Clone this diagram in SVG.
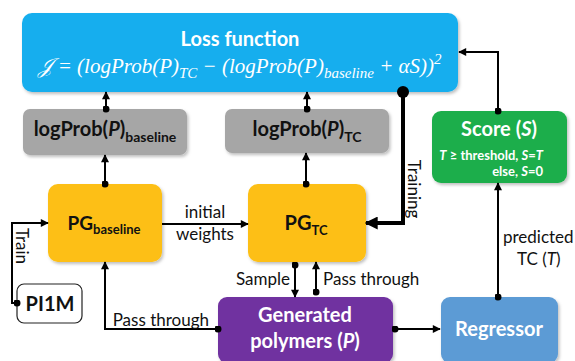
<svg xmlns="http://www.w3.org/2000/svg" width="575" height="361" viewBox="0 0 575 361">
  <style>
    .box { filter: url(#shadow); }
    .lbl { font-family: Lato, "Liberation Sans", sans-serif; font-weight: bold; }
    .white { fill: #ffffff; }
    .dark { fill: #111111; }
    .edge { fill: none; stroke: #000000; stroke-width: 2; }
    .thick { fill: none; stroke: #000000; stroke-width: 4; }
    .note { font-family: Lato, "Liberation Sans", sans-serif; font-size: 17px; fill: #111111; }
    .math { font-family: "Liberation Serif", "DejaVu Serif", serif; font-style: italic; fill: #ffffff; }
  </style>
  <defs>
    <filter id="shadow" x="-10%" y="-10%" width="125%" height="130%">
      <feDropShadow dx="1.5" dy="2" stdDeviation="1.8" flood-color="#000000" flood-opacity="0.25"/>
    </filter>
    <marker id="arrow" viewBox="0 0 10 10" refX="9" refY="5" markerWidth="9" markerHeight="8" markerUnits="userSpaceOnUse" orient="auto">
      <path d="M0,0 L10,5 L0,10 Z" fill="#000000"/>
    </marker>
    <marker id="arrowBig" viewBox="0 0 10 10" refX="9" refY="5" markerWidth="13" markerHeight="13" markerUnits="userSpaceOnUse" orient="auto">
      <path d="M0,0 L10,5 L0,10 Z" fill="#000000"/>
    </marker>
    <marker id="dot" viewBox="0 0 10 10" refX="5" refY="5" markerWidth="7" markerHeight="7" markerUnits="userSpaceOnUse">
      <circle cx="5" cy="5" r="5" fill="#000000"/>
    </marker>
    <marker id="dotBig" viewBox="0 0 10 10" refX="5" refY="5" markerWidth="12" markerHeight="12" markerUnits="userSpaceOnUse">
      <circle cx="5" cy="5" r="5" fill="#000000"/>
    </marker>
  </defs>

  <!-- loss function -->
  <g id="loss">
    <rect class="box" x="22" y="13" width="436" height="79" rx="10" fill="#17AEEE"/>
    <text class="lbl white" x="240" y="46" font-size="20" text-anchor="middle">Loss function</text>
    <text class="math" x="240" y="73" font-size="21" text-anchor="middle">𝒥 = (<tspan>logProb</tspan>(<tspan>P</tspan>)<tspan font-size="15" dy="5">TC</tspan><tspan dy="-5"> − (logProb(P)</tspan><tspan font-size="15" dy="5">baseline</tspan><tspan dy="-5"> + αS))</tspan><tspan font-size="15" dy="-9">2</tspan></text>
  </g>

  <!-- log-probability boxes -->
  <g id="logprob-baseline">
    <rect class="box" x="23" y="109" width="164" height="46" rx="7" fill="#A6A6A6"/>
    <text class="lbl dark" x="105" y="136" font-size="20" text-anchor="middle">logProb(<tspan font-style="italic">P</tspan>)<tspan font-size="14" dy="6">baseline</tspan></text>
  </g>
  <g id="logprob-tc">
    <rect class="box" x="225" y="109" width="164" height="44" rx="7" fill="#A6A6A6"/>
    <text class="lbl dark" x="307" y="136" font-size="20" text-anchor="middle">logProb(<tspan font-style="italic">P</tspan>)<tspan font-size="14" dy="6">TC</tspan></text>
  </g>

  <!-- score -->
  <g id="score">
    <rect class="box" x="432" y="111" width="135" height="72" rx="9" fill="#1FAE4B"/>
    <text class="lbl white" x="499" y="136" font-size="20" text-anchor="middle">Score (<tspan font-style="italic">S</tspan>)</text>
    <text class="lbl white" x="543" y="160" font-size="13" text-anchor="end"><tspan font-style="italic">T</tspan> ≥ threshold, <tspan font-style="italic">S</tspan>=<tspan font-style="italic">T</tspan></text>
    <text class="lbl white" x="543" y="176" font-size="13" text-anchor="end">else, <tspan font-style="italic">S</tspan>=0</text>
  </g>

  <!-- policy generators -->
  <g id="pg-baseline">
    <rect class="box" x="48" y="184" width="114" height="78" rx="10" fill="#FDBF13"/>
    <text class="lbl dark" x="104" y="230" font-size="19" text-anchor="middle">PG<tspan font-size="13" dy="4">baseline</tspan></text>
  </g>
  <g id="pg-tc">
    <rect class="box" x="248" y="184" width="118" height="78" rx="10" fill="#FDBF13"/>
    <text class="lbl dark" x="306" y="230" font-size="20" text-anchor="middle">PG<tspan font-size="13" dy="5">TC</tspan></text>
  </g>

  <!-- pretraining data -->
  <g id="pi1m">
    <rect x="17" y="284" width="65" height="39" rx="7" fill="#ffffff" stroke="#222222" stroke-width="1.2"/>
    <text class="lbl dark" x="50" y="311" font-size="20" text-anchor="middle">PI1M</text>
  </g>

  <!-- generated polymers -->
  <g id="generated">
    <rect class="box" x="218" y="297" width="175" height="66" rx="9" fill="#7030A0"/>
    <text class="lbl white" x="305" y="322" font-size="20" text-anchor="middle">Generated</text>
    <text class="lbl white" x="305" y="348" font-size="20" text-anchor="middle">polymers (<tspan font-style="italic">P</tspan>)</text>
  </g>

  <!-- regressor -->
  <g id="regressor">
    <rect class="box" x="441" y="297" width="117" height="66" rx="9" fill="#5B9BD5"/>
    <text class="lbl white" x="499" y="336" font-size="20" text-anchor="middle">Regressor</text>
  </g>

  <!-- connectors -->
  <g id="connectors">
    <path class="edge" d="M106,109 V92" marker-start="url(#dot)" marker-end="url(#arrow)"/>
    <path class="edge" d="M307,109 V92" marker-start="url(#dot)" marker-end="url(#arrow)"/>
    <path class="edge" d="M105,184 V155" marker-start="url(#dot)" marker-end="url(#arrow)"/>
    <path class="edge" d="M306,184 V153" marker-start="url(#dot)" marker-end="url(#arrow)"/>
    <path class="edge" d="M162,224 H248" marker-end="url(#arrow)"/>
    <path class="thick" d="M403,92 V223 H366" marker-start="url(#dotBig)" marker-end="url(#arrowBig)"/>
    <path class="edge" d="M498,111 V52 H459" marker-start="url(#dot)" marker-end="url(#arrow)"/>
    <path class="edge" d="M498,297 V183" marker-start="url(#dot)" marker-end="url(#arrow)"/>
    <path class="edge" d="M395,329 H440" marker-start="url(#dot)" marker-end="url(#arrow)"/>
    <path class="edge" d="M218,329 H105 V262" marker-start="url(#dot)" marker-end="url(#arrow)"/>
    <path class="edge" d="M295,265 V297" marker-start="url(#dot)" marker-end="url(#arrow)"/>
    <path class="edge" d="M316,292 V262" marker-start="url(#dot)" marker-end="url(#arrow)"/>
    <path class="edge" d="M17,303 H12 V223 H48" marker-start="url(#dot)" marker-end="url(#arrow)"/>

    <text class="note" x="205" y="218" text-anchor="middle">initial</text>
    <text class="note" x="205" y="240" text-anchor="middle">weights</text>
    <text class="note" transform="translate(408,189) rotate(90)" text-anchor="middle">Training</text>
    <text class="note" transform="translate(16,246) rotate(90)" text-anchor="middle">Train</text>
    <text class="note" x="209" y="326" text-anchor="end">Pass through</text>
    <text class="note" x="290" y="285" text-anchor="end">Sample</text>
    <text class="note" x="323" y="285">Pass through</text>
    <text class="note" x="503" y="243">predicted</text>
    <text class="note" x="517" y="265">TC (<tspan font-style="italic">T</tspan>)</text>
  </g>
</svg>
